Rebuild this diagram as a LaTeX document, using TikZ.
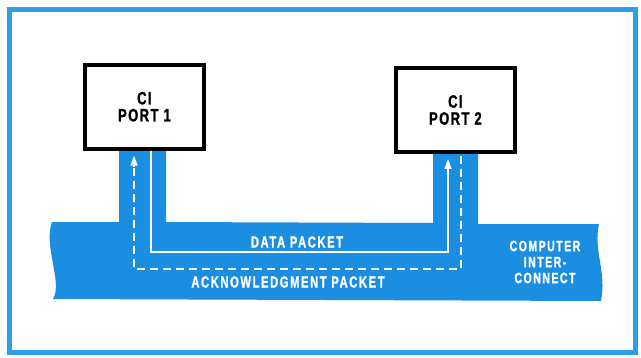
\documentclass[tikz,border=0pt]{standalone}
\usepackage{fontspec}
\setmainfont{Liberation Sans}
\newfontfamily\lblfont[FakeStretch=0.7,LetterSpace=10,FakeBold=1.2]{Liberation Sans Bold}
\newfontfamily\boxfont[FakeStretch=0.72,LetterSpace=8,FakeBold=1.2]{Liberation Sans Bold}
\usetikzlibrary{arrows.meta}
\definecolor{bandblue}{RGB}{28,142,226}
\definecolor{frameblue}{RGB}{42,160,234}
\tikzset{
  portbox/.style={draw=black,fill=white,line width=3.8pt,minimum width=119pt,minimum height=84pt,inner sep=0pt,align=center,font=\boxfont\fontsize{18}{17}\selectfont},
  bandlbl/.style={text=white,inner sep=0pt,align=center,font=\lblfont\fontsize{16}{16}\selectfont},
  path/.style={draw=white,line width=1.8pt},
  tip/.style={-{Triangle[width=7pt,length=10pt]}},
  ackline/.style={draw=white,line width=1.8pt,dash pattern=on 8pt off 5pt}
}
\begin{document}
\begin{tikzpicture}[x=1pt,y=-1pt]
\useasboundingbox (0,0) rectangle (641,357);
\fill[white] (0,0) rectangle (641,357);
\draw[frameblue,line width=5pt] (9,9) rectangle (635,352);
% interconnect band
\fill[bandblue] (52,222) -- (119,222) -- (119,146) -- (166,146) -- (166,222)
  -- (433,223) -- (433,150) -- (478,150) -- (478,224) -- (599,224)
  .. controls (593,250) and (607,272) .. (601,301)
  -- (53,299) .. controls (63,282) and (43,246) .. (52,222) -- cycle;
% ports
\node[portbox] (box1) at (144.4,106.7) {CI\\PORT 1};
\node[portbox] (box2) at (455.4,110) {CI\\PORT 2};
% route corners
\coordinate (d1) at (151,252);
\coordinate (d2) at (448,252);
\coordinate (a1) at (461,269);
\coordinate (a2) at (134,269);
% data packet path
\draw[path,tip] (box1.south -| d1) -- (d1) -- (d2) -- ([yshift=-5pt]box2.south -| d2);
% acknowledgment path
\draw[ackline] ([yshift=-2pt]box2.south -| a1) -- (a1) -- (a2) -- ([yshift=-14pt]box1.south -| a2);
\draw[path,tip] ([yshift=-16pt]box1.south -| a2) -- ([yshift=-5pt]box1.south -| a2);
% labels
\node[bandlbl] (data) at (297,242) {DATA PACKET};
\node[bandlbl] (ack) at (288,282) {ACKNOWLEDGMENT PACKET};
\node[bandlbl,font=\lblfont\fontsize{15}{16}\selectfont] (ci) at (545,262) {COMPUTER\\INTER-\\CONNECT};
\end{tikzpicture}
\end{document}
